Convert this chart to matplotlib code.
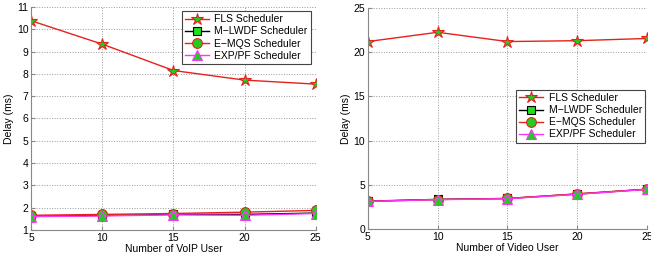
import matplotlib.pyplot as plt

users = [5, 10, 15, 20, 25]

# VoIP delay (ms)
voip_fls = [10.38, 9.33, 8.15, 7.72, 7.54]
voip_mlwdf = [1.62, 1.65, 1.70, 1.70, 1.76]
voip_emqs = [1.66, 1.70, 1.74, 1.80, 1.88]
voip_exppf = [1.60, 1.63, 1.68, 1.66, 1.74]

# Video delay (ms)
video_fls = [21.2, 22.25, 21.2, 21.3, 21.55]
video_mlwdf = [3.15, 3.35, 3.45, 3.95, 4.5]
video_emqs = [3.12, 3.33, 3.45, 3.98, 4.5]
video_exppf = [3.12, 3.32, 3.42, 3.92, 4.48]

labels = ["FLS Scheduler", "M\u2212LWDF Scheduler", "E\u2212MQS Scheduler", "EXP/PF Scheduler"]
styles = [
    dict(color="#e8201c", marker="*", ms=9, mec="#e8201c", mfc="#22cc22"),
    dict(color="black", marker="s", ms=6, mec="black", mfc="#22dd22"),
    dict(color="#e8201c", marker="o", ms=7, mec="#e8201c", mfc="#22cc22"),
    dict(color="#ff33ff", marker="^", ms=7, mec="#ff33ff", mfc="#22cc22"),
]

plt.rcParams["font.family"] = "Liberation Sans"
plt.rcParams["font.size"] = 7.5

fig = plt.figure(figsize=(6.51, 2.57), dpi=100)
ax1 = fig.add_axes([0.048, 0.105, 0.437, 0.868])
ax2 = fig.add_axes([0.565, 0.109, 0.429, 0.860])


def draw(ax, series, xlabel, ylim, yticks, legend_loc, bbox=None):
    for ys, lab, st in zip(series, labels, styles):
        ax.plot(users, ys, label=lab, lw=1.0, mew=0.8, **st)
    ax.set_xlim(5, 25)
    ax.set_ylim(*ylim)
    ax.set_xticks(users)
    ax.set_yticks(yticks)
    ax.set_xlabel(xlabel, labelpad=1)
    ax.set_ylabel("Delay (ms)", labelpad=2)
    ax.grid(True, linestyle=":", color="#999999", lw=0.7)
    for s in ["top", "right"]:
        ax.spines[s].set_visible(False)
    for s in ["left", "bottom"]:
        ax.spines[s].set_color("#888888")
    ax.tick_params(direction="in", length=3, pad=2, color="#888888")
    leg = ax.legend(loc=legend_loc, bbox_to_anchor=bbox, fancybox=False, framealpha=1,
                    edgecolor="#444444", handlelength=2.3, borderpad=0.3,
                    labelspacing=0.2, handletextpad=0.5, borderaxespad=0.2)
    leg.get_frame().set_linewidth(0.8)


draw(ax1, [voip_fls, voip_mlwdf, voip_emqs, voip_exppf],
     "Number of VoIP User", (1, 11), range(1, 12), "upper right", (0.99, 0.99))
draw(ax2, [video_fls, video_mlwdf, video_emqs, video_exppf],
     "Number of Video User", (0, 25), range(0, 26, 5), "center right", (1.0, 0.51))

fig.savefig("out.png", dpi=100)
